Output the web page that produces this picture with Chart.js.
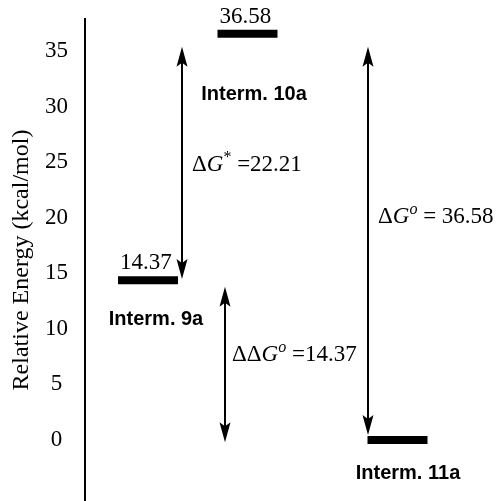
<!DOCTYPE html>
<html>
<head>
<meta charset="utf-8">
<script src="https://cdn.jsdelivr.net/npm/chart.js@4"></script>
<style>body{margin:0;background:#fff}</style>
</head>
<body>
<canvas id="myChart" width="499" height="501"></canvas>
<script>
const ctx = document.getElementById('myChart')

// levels (reaction coordinate position, relative energy)
const states = ['Interm. 9a', 'Interm. 10a', 'Interm. 11a']
const energies = [14.37, 36.58, 0]
const levelPos = [1.26, 3.25, 6.25]
const yTicks = [0, 5, 10, 15, 20, 25, 30, 35]

// double headed arrows
const arrowX = [1.94, 2.8, 5.66]
const arrowFrom = [14.5, -0.2, 0.45]
const arrowTo = [35.4, 13.8, 35.4]

// arrow captions (parts: text, italic, superscript)
const arrowText = [
  [['Δ'], ['G', 1], ['*', 0, 1], [' =22.21']],
  [['ΔΔ'], ['G', 1], ['o', 1, 1], [' =14.37']],
  [['Δ'], ['G', 1], ['o', 1, 1], [' = 36.58']]
]
const arrowTextX = [2.14, 2.94, 5.86]
const arrowTextY = [24.95, 7.84, 20.27]

// state names
const nameX = [1.42, 3.38, 6.46]
const nameY = [10.81, 31.08, -3.06]

const barHalf = 0.6
const serif = '"Liberation Serif", "Times New Roman", serif'

function head(c, x, tipY, dir) { // dir -1 = points up
  const L = 20, W = 5.5, N = 4
  c.beginPath()
  c.moveTo(x, tipY)
  c.lineTo(x - W, tipY - dir * L)
  c.lineTo(x, tipY - dir * (L - N))
  c.lineTo(x + W, tipY - dir * L)
  c.closePath()
  c.fill()
}

function arrow(c, x, yBottom, yTop) {
  c.lineWidth = 2
  c.beginPath()
  c.moveTo(x, yBottom - 10)
  c.lineTo(x, yTop + 10)
  c.stroke()
  head(c, x, yTop, -1)
  head(c, x, yBottom, 1)
}

function richText(c, parts, x, y) { // y = baseline
  for (const p of parts) {
    const size = p[2] ? 16 : 23
    c.font = (p[1] ? 'italic ' : '') + size + 'px ' + serif
    c.fillText(p[0], x, p[2] ? y - 9 : y)
    x += c.measureText(p[0]).width
  }
}

const annotations = {
  id: 'annotations',
  afterDatasetsDraw(chart) {
    const c = chart.ctx, xs = chart.scales.x, ys = chart.scales.y
    c.save()
    c.fillStyle = '#000'
    c.strokeStyle = '#000'

    for (let i = 0; i < arrowX.length; i++) {
      arrow(c, xs.getPixelForValue(arrowX[i]), ys.getPixelForValue(arrowFrom[i]), ys.getPixelForValue(arrowTo[i]))
    }

    c.textAlign = 'left'
    c.textBaseline = 'alphabetic'
    c.font = '23px ' + serif
    for (let i = 0; i < energies.length; i++) {
      if (energies[i] === 0) continue
      const x = xs.getPixelForValue(levelPos[i] - barHalf)
      const y = ys.getPixelForValue(energies[i])
      c.fillText(energies[i].toFixed(2), x + 2, y - 11)
    }

    for (let i = 0; i < arrowText.length; i++) {
      richText(c, arrowText[i], xs.getPixelForValue(arrowTextX[i]), ys.getPixelForValue(arrowTextY[i]) + 8)
    }

    c.textAlign = 'center'
    c.textBaseline = 'middle'
    c.font = 'bold 20px "Liberation Sans", Arial, sans-serif'
    for (let i = 0; i < states.length; i++) {
      c.fillText(states[i], xs.getPixelForValue(nameX[i]), ys.getPixelForValue(nameY[i]))
    }
    c.restore()
  }
}

const datasets = energies.map((e, i) => ({
  label: states[i],
  data: [{x: levelPos[i] - barHalf, y: e}, {x: levelPos[i] + barHalf, y: e}],
  showLine: true,
  borderColor: '#000',
  borderWidth: 8,
  borderCapStyle: 'butt',
  pointRadius: 0,
  pointHoverRadius: 0
}))

new Chart(ctx, {
  type: 'scatter',
  data: { datasets: datasets },
  options: {
    responsive: false,
    animation: false,
    layout: { padding: { top: 19, left: 0, right: 0, bottom: 0 } },
    plugins: { legend: { display: false }, tooltip: { enabled: false } },
    scales: {
      x: { type: 'linear', min: 0, max: 8.28, display: false },
      y: {
        type: 'linear',
        min: -5.5,
        max: 37.9,
        afterBuildTicks: s => { s.ticks = yTicks.map(v => ({ value: v })) },
        afterFit: s => { s.width = 85; s.paddingTop = 0; s.paddingBottom = 0 },
        grid: { display: false, drawTicks: false },
        border: { display: true, color: '#000', width: 2 },
        ticks: {
          color: '#000',
          font: { family: serif, size: 23 },
          padding: 17,
          crossAlign: 'center'
        },
        title: {
          display: true,
          text: 'Relative Energy (kcal/mol)',
          color: '#000',
          font: { family: serif, size: 24 },
          padding: { top: 7, bottom: 0 }
        }
      }
    }
  },
  plugins: [annotations]
})
</script>
</body>
</html>
